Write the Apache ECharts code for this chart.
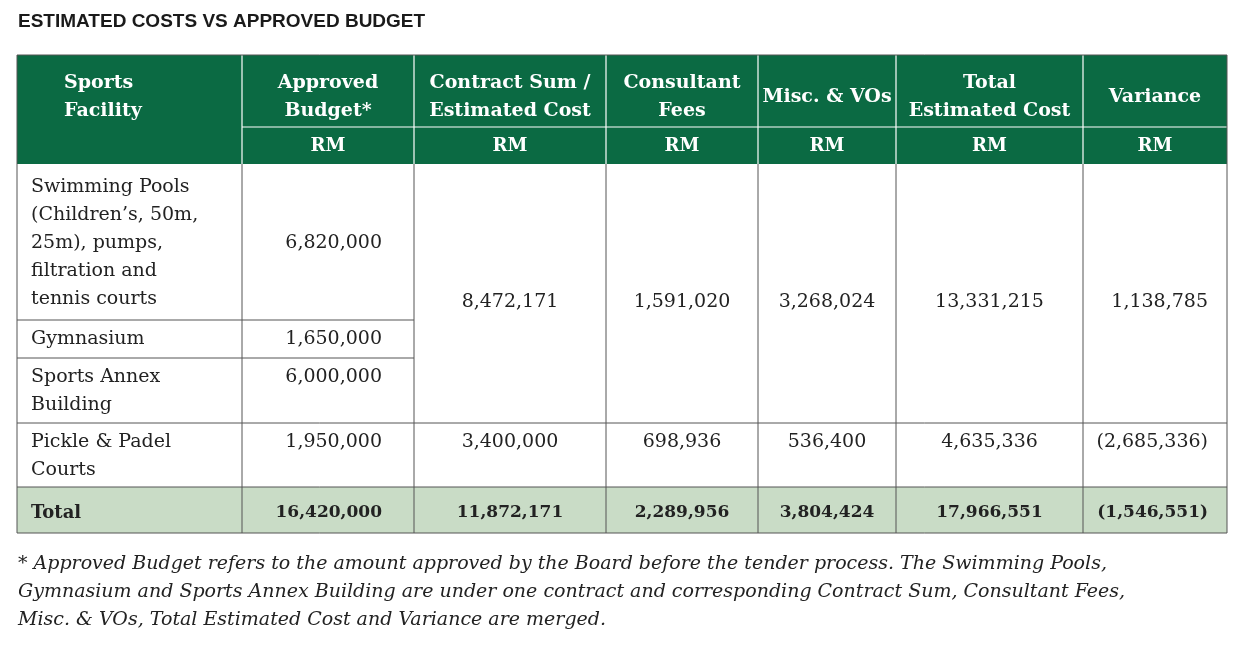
<!DOCTYPE html>
<html><head><meta charset="utf-8">
<script src="https://cdn.jsdelivr.net/npm/echarts@6/dist/echarts.min.js"></script>
<style>html,body{margin:0;background:#fff}#main{width:1240px;height:658px}</style>
</head><body><div id="main"></div>
<script>
var title = 'ESTIMATED COSTS VS APPROVED BUDGET';
var headers = ['Sports\nFacility', 'Approved\nBudget*', 'Contract Sum /\nEstimated Cost', 'Consultant\nFees', 'Misc. & VOs', 'Total\nEstimated Cost', 'Variance'];
var units = ['', 'RM', 'RM', 'RM', 'RM', 'RM', 'RM'];
var facilities = ['Swimming Pools\n(Children\u2019s, 50m,\n25m), pumps,\nfiltration and\ntennis courts', 'Gymnasium', 'Sports Annex\nBuilding', 'Pickle & Padel\nCourts'];
var approved = ['6,820,000', '1,650,000', '6,000,000', '1,950,000'];
var mergedRow = ['8,472,171', '1,591,020', '3,268,024', '13,331,215', '1,138,785'];
var pickleRow = ['3,400,000', '698,936', '536,400', '4,635,336', '(2,685,336)'];
var totals = ['Total', '16,420,000', '11,872,171', '2,289,956', '3,804,424', '17,966,551', '(1,546,551)'];
var footnote = '* Approved Budget refers to the amount approved by the Board before the tender process. The Swimming Pools,\nGymnasium and Sports Annex Building are under one contract and corresponding Contract Sum, Consultant Fees,\nMisc. & VOs, Total Estimated Cost and Variance are merged.';

var colX = [17, 242, 414, 606, 758, 896, 1083, 1227];
var rowY = [55, 127, 164, 320, 358, 423, 487, 533];
var GREEN = '#0b6a43', TOT = '#c9dcc6', LINE = '#555';
var els = [];
var SERIF = 'DejaVu Serif';
function txt(x, y, s, o) {
  o = o || {};
  els.push({type: 'text', x: x, y: y, style: {text: s,
    font: (o.it ? 'italic ' : '') + (o.fw || 'normal') + ' ' + (o.fs || 19) + 'px "' + (o.ff || SERIF) + '"',
    fill: o.c || '#222', align: o.a || 'left', verticalAlign: o.va || 'middle', lineHeight: o.lh || 28}});
}
function rect(x, y, w, h, f) { els.push({type: 'rect', shape: {x: x, y: y, width: w, height: h}, style: {fill: f}}); }
function line(x1, y1, x2, y2, c, w) { els.push({type: 'line', shape: {x1: x1, y1: y1, x2: x2, y2: y2}, style: {stroke: c, lineWidth: w || 1}}); }
function cx(i) { return (colX[i] + colX[i + 1]) / 2; }

txt(18, 22, title, {ff: 'Liberation Sans', fw: 'bold', fs: 19, c: '#1a1a1a'});
rect(colX[0], rowY[0], colX[7] - colX[0], rowY[2] - rowY[0], GREEN);
rect(colX[0], rowY[6], colX[7] - colX[0], rowY[7] - rowY[6], TOT);
line(colX[1], rowY[1], colX[7], rowY[1], '#fff', 1.2);
for (var i = 1; i < 7; i++) line(colX[i], rowY[0], colX[i], rowY[2], '#fff', 1.2);
for (var i = 0; i < 7; i++) {
  if (i === 0) txt(64, 97, headers[0], {fw: 'bold', fs: 19, c: '#fff'});
  else txt(cx(i), 97, headers[i], {fw: 'bold', fs: 19, c: '#fff', a: 'center'});
  if (units[i]) txt(cx(i), 146, units[i], {fw: 'bold', fs: 18, c: '#fff', a: 'center'});
}
els.push({type: 'rect', shape: {x: colX[0], y: rowY[0], width: colX[7] - colX[0], height: rowY[7] - rowY[0]}, style: {fill: null, stroke: LINE, lineWidth: 1}});
line(colX[0], rowY[3], colX[2], rowY[3], LINE);
line(colX[0], rowY[4], colX[2], rowY[4], LINE);
line(colX[0], rowY[5], colX[7], rowY[5], LINE);
line(colX[0], rowY[6], colX[7], rowY[6], LINE);
for (var i = 1; i < 7; i++) line(colX[i], rowY[2], colX[i], rowY[7], LINE);

var facY = [243, 339, 391, 456];
var appY = [243, 339, 377, 442];
for (var r = 0; r < 4; r++) {
  txt(31, facY[r], facilities[r], {fs: 19});
  txt(382, appY[r], approved[r], {fs: 19, a: 'right'});
}
for (var j = 0; j < 5; j++) {
  var col = j + 2;
  var a = col === 6 ? 'right' : 'center', x = col === 6 ? 1208 : cx(col);
  txt(x, 302, mergedRow[j], {fs: 19, a: a});
  txt(x, 442, pickleRow[j], {fs: 19, a: a});
}
txt(31, 513, totals[0], {fw: 'bold', fs: 18});
for (var j = 1; j < 7; j++) {
  var x = j === 1 ? 382 : (j === 6 ? 1208 : cx(j));
  txt(x, 513, totals[j], {fw: 'bold', fs: 17, a: j === 1 || j === 6 ? 'right' : 'center'});
}
txt(18, 592, footnote, {it: true, fs: 19, lh: 28});

var chart = echarts.init(document.getElementById('main'));
chart.setOption({animation: false, graphic: {elements: els}});
</script>
</body></html>
